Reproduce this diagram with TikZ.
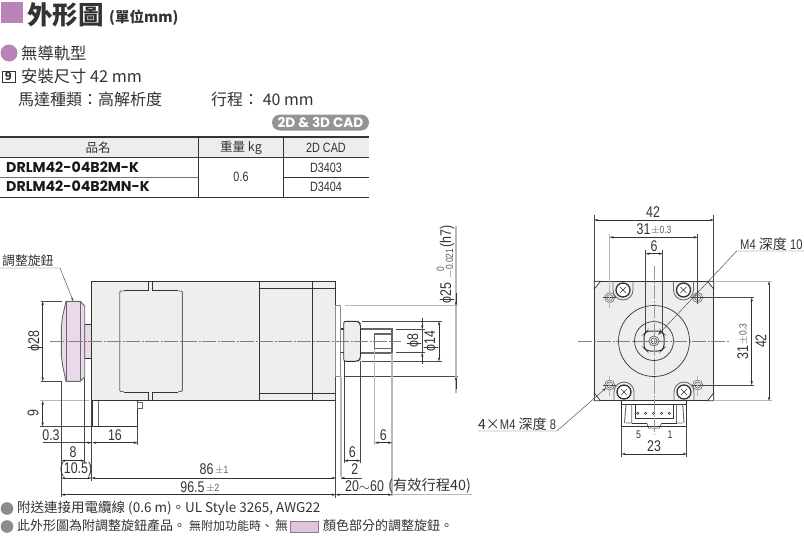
\documentclass[tikz,border=0pt]{standalone}
\usepackage{fontspec}
\usepackage{tikz}
\usepackage{xcolor}
\usetikzlibrary{arrows.meta,calc}
\setmainfont{Noto Sans CJK TC}
\newfontfamily\dimfont[FakeStretch=0.8]{Liberation Sans}
\newfontfamily\partfont[BoldFont={Poppins Bold}]{Poppins}
\definecolor{markpink}{HTML}{B884B8}
\definecolor{bodygray}{HTML}{EEEEEE}
\definecolor{knobpink}{HTML}{EAD9EA}
\definecolor{swatchpink}{HTML}{E0C4E0}
\definecolor{extgray}{HTML}{B8B8B8}
\definecolor{inkdark}{HTML}{333333}
\newcommand{\fs}[1]{\fontsize{#1}{#1}\selectfont}
\newcommand{\phisign}{\char"03D5\relax}
\tikzset{
    every node/.style={inner sep=0pt,text=inkdark},
    outline/.style={draw=inkdark,line width=0.9pt},
    thinline/.style={draw=inkdark,line width=0.5pt},
    extline/.style={draw=inkdark!90,line width=0.45pt},
    extthick/.style={draw=extgray,line width=1.1pt},
    grayedge/.style={draw=black!60,line width=1.1pt},
    centerline/.style={draw=black!50,line width=0.5pt,dash pattern=on 14pt off 1.5pt on 2pt off 1.5pt},
    dimline/.style={draw=inkdark,line width=0.45pt,{Stealth[length=4pt,width=2.4pt]}-{Stealth[length=4pt,width=2.4pt]}},
    dimhead/.style={draw=inkdark,line width=0.45pt,-{Stealth[length=4pt,width=2.4pt]}},
    dimtext/.style={font=\dimfont\fs{15.5}},
    tol/.style={font=\dimfont\fs{10.5},text=black!65},
    headtext/.style={font=\fs{16.3},anchor=west},
    celltext/.style={font=\dimfont\fs{13.5}},
    parttext/.style={font=\partfont\bfseries\fs{14.2},anchor=west,text=black!90},
    notetext/.style={font=\fs{13},anchor=west},
    callout/.style={font=\fs{14},anchor=west},
}
\begin{document}
\begin{tikzpicture}[x=1pt,y=-1pt]
    \useasboundingbox (0,0) rectangle (804,536);

    % Title block
    \fill[markpink] (1,2) rectangle (23,23);
    \node[anchor=west,font=\bfseries\fs{25.5}] (title) at (27,15) {外形圖};
    \node[anchor=west,font=\bfseries\fs{14.5}] (unit) at (109,18) {(單位mm)};
    \fill[markpink] (9,53) circle (8.5);
    \node[headtext] (rail) at (21,53) {無導軌型};
    \draw[thinline,fill=white] (2,71) rectangle (15,82);
    \node[font=\bfseries\fs{11.5}] (sizemark) at (8.5,76.5) {9};
    \node[headtext] (mount) at (21,76) {安裝尺寸 42 mm};
    \node[headtext,font=\fs{16}] (motor) at (18,99) {馬達種類：高解析度};
    \node[headtext,font=\fs{16}] (stroke) at (211,99) {行程： 40 mm};
    \fill[black!42,rounded corners=8pt] (272,114.5) rectangle (369,130.5);
    \node[font=\partfont\bfseries\fs{13.6},text=white] (cad) at (320.5,122.5) {2D \& 3D CAD};

    % Table
    \fill[black!7] (0,137) rectangle (369,157);
    \draw[line width=1.2pt,draw=inkdark] (0,137) -- (369,137);
    \draw[line width=1.2pt,draw=inkdark] (0,197.3) -- (369,197.3);
    \draw[thinline] (0,157) -- (369,157);
    \draw[draw=black!55,line width=0.5pt] (0,177) -- (198.5,177);
    \draw[thinline] (283.5,177) -- (369,177);
    \draw[thinline] (198.5,137) -- (198.5,197) (283.5,137) -- (283.5,197);
    \node[font=\fs{12.5}] (namehead) at (98,148) {品名};
    \node[font=\fs{12.5}] (masshead) at (241,148) {重量 kg};
    \node[celltext] (cadhead) at (326,147.5) {2D CAD};
    \node[parttext] (parta) at (6,167) {DRLM42-04B2M-K};
    \node[parttext] (partb) at (6,186.5) {DRLM42-04B2MN-K};
    \node[celltext] (mass) at (241,177) {0.6};
    \node[celltext] (cada) at (326,167.5) {D3403};
    \node[celltext] (cadb) at (326,187) {D3404};

    % Side view: motor body
    \draw[outline,fill=bodygray] (91.5,281.5) rectangle (335.7,400.8);
    \draw[outline] (259.3,281.5) -- (259.3,400.8) (312.3,281.5) -- (312.3,400.8);
    \draw[thinline] (259.3,288.3) -- (335.7,288.3) (259.3,393.3) -- (335.7,393.3);
    \draw[grayedge,line width=0.9pt,rounded corners=1pt] (123.7,291) -- (119.7,291) -- (119.7,391.5) -- (123.7,391.5);
    \draw[grayedge,line width=0.9pt,rounded corners=1pt] (178.3,291) -- (182.3,291) -- (182.3,391.5) -- (178.3,391.5);
    \draw[outline,line width=0.7pt] (123.7,290.5) -- (148,290.5) -- (148,281.5) (152.5,281.5) -- (152.5,290.5) -- (178.3,290.5);
    \draw[outline,line width=0.7pt] (123.7,392.3) -- (148,392.3) -- (148,400.8) (152.5,400.8) -- (152.5,392.3) -- (178.3,392.3);

    % Side view: adjusting knob
    \draw[outline,fill=knobpink] (84.7,324.3) rectangle (91.5,358.7);
    \draw[grayedge,fill=knobpink,line width=0.9pt] (66,301.3) -- (80.3,301.3) -- (84.7,306) -- (84.7,376.7) -- (80.3,381.3) -- (66,381.3)
        -- (62.5,365) -- (61.3,355) -- (61.3,328) -- (62.5,316.7) -- cycle;
    \draw[grayedge,line width=0.7pt] (66,301.3) -- (66,381.3) (80.3,301.3) -- (80.3,381.3);

    % Side view: connector below the body
    \draw[outline,fill=white] (92.3,400.8) rectangle (137.7,426.3);
    \draw[grayedge,line width=0.8pt] (98.3,400.8) -- (98.3,426.3);
    \draw[grayedge,line width=0.7pt] (137.7,402.7) rectangle (142,408.7);

    % Side view: pilot, boss and shaft
    \draw[grayedge,line width=0.8pt,draw=black!45] (335.7,305.7) rectangle (340.7,376.7);
    \draw[outline,line width=1.2pt] (340.7,329) -- (343.7,329) (340.7,352.7) -- (343.7,352.7);
    \draw[grayedge,line width=1.8pt] (360.5,329.3) -- (392,329.3) -- (392,352.7) -- (360.5,352.7);
    \draw[grayedge,line width=1.1pt] (392,334) -- (374.7,334) -- (374.7,348.3) -- (392,348.3);
    \draw[outline,fill=bodygray,rounded corners=2pt] (343.7,321.3) -- (358,321.3) -- (360.5,324) -- (360.5,358.6) -- (358,361.3) -- (343.7,361.3) -- cycle;
    \draw[centerline] (50,341.3) -- (401,341.3);

    % Side view: vertical dimensions
    \draw[extline] (41,301.3) -- (62,301.3) (41,381.3) -- (62,381.3);
    \draw[dimline] (42.7,301.3) -- (42.7,381.3);
    \node[dimtext,rotate=90] (dknob) at (35,341.3) {\phisign28};
    \draw[extthick,line width=0.9pt] (40,400.8) -- (89,400.8);
    \draw[extline] (40,426.3) -- (92.3,426.3);
    \draw[dimline] (42.7,400.8) -- (42.7,426.3);
    \node[dimtext,rotate=90] (dcon) at (33,413.5) {9};
    \draw[extthick] (345,305.7) -- (458,305.7);
    \draw[extline] (345,376.7) -- (458,376.7);
    \draw[extthick] (456,226) -- (456,393);
    \coordinate (pilottop) at (456,305.7);
    \coordinate (pilotlow) at (456,376.7);
    \draw[dimhead] (456,293) -- (pilottop);
    \draw[dimhead] (456,389) -- (pilotlow);
    \node[dimtext,rotate=90,anchor=west] (dpilot) at (447,303.5) {\phisign25};
    \node[tol,rotate=90] (tolup) at (440.5,269) {0};
    \node[tol,rotate=90] (tollow) at (450,263.5) {$-$0.021};
    \node[dimtext,rotate=90,anchor=west] (fit) at (447,248) {(h7)};
    \draw[extline] (362,321.3) -- (442,321.3) (362,361.3) -- (442,361.3);
    \draw[dimline] (439,321.3) -- (439,361.3);
    \node[dimtext,rotate=90] (dboss) at (431,341) {\phisign14};
    \draw[extline] (396,329.3) -- (425,329.3) (396,352.7) -- (425,352.7);
    \draw[dimhead] (422.3,318) -- (422.3,329.3);
    \draw[dimhead] (422.3,364) -- (422.3,352.7);
    \draw[extline] (422.3,329.3) -- (422.3,352.7);
    \node[dimtext,rotate=90] (dshaft) at (414,341) {\phisign8};

    % Side view: extension lines going down
    \draw[extline] (61.4,381.3) -- (61.4,497);
    \draw[extline] (84.7,378) -- (84.7,463);
    \draw[extline] (91.5,401) -- (91.5,481);
    \draw[extline] (137.7,426.3) -- (137.7,445);
    \draw[extline] (335.7,377) -- (335.7,498);
    \draw[extthick] (341,377) -- (341,477);
    \draw[extline] (344,361.3) -- (344,463);
    \draw[extline] (360.5,361.3) -- (360.5,463);
    \draw[extthick] (374.7,349) -- (374.7,445);
    \draw[extthick] (392,352.7) -- (392,496);

    % Side view: horizontal dimensions
    \draw[extline] (43,442.7) -- (91.5,442.7);
    \draw[dimhead] (80,442.7) -- (91.5,442.7);
    \node[dimtext] (d03) at (51,435.5) {0.3};
    \draw[dimline] (92.3,442.7) -- (137.7,442.7);
    \node[dimtext] (d16) at (115,435.5) {16};
    \draw[dimline] (61.4,460.7) -- (84.7,460.7);
    \node[dimtext] (d8) at (73,452) {8};
    \draw[dimline] (61.4,478) -- (91.5,478);
    \node[dimtext] (d105) at (76,469.5) {(10.5)};
    \draw[dimline] (91.5,478) -- (335.7,478);
    \node[dimtext] (d86) at (206.5,469.5) {86};
    \node[tol,anchor=west] (d86t) at (215,470.5) {$\pm$1};
    \draw[dimline] (61.4,494.7) -- (335.7,494.7);
    \node[dimtext] (d965) at (192.5,487) {96.5};
    \node[tol,anchor=west] (d965t) at (206,488) {$\pm$2};
    \draw[dimline] (344,460.7) -- (360.5,460.7);
    \node[dimtext] (d6a) at (352.3,452) {6};
    \draw[dimline] (374.7,442.7) -- (392,442.7);
    \node[dimtext] (d6b) at (383.3,435.5) {6};
    \draw[extline] (341,478) -- (361.7,478);
    \draw[dimhead] (352,478) -- (341,478);
    \node[dimtext] (d2) at (354.7,469.5) {2};
    \draw[dimline] (335.7,494.7) -- (392,494.7);
    \draw[extthick,line width=0.9pt] (392,494.7) -- (471.7,494.7);
    \node[dimtext,anchor=west] (dstroke) at (345,486.5) {20$\sim$60};
    \node[font=\fs{14.3},anchor=west] (dstrokenote) at (388,486) {(有效行程40)};

    % Adjusting knob callout
    \node[font=\fs{12.8},anchor=west] (knoblabel) at (2,260.7) {調整旋鈕};
    \coordinate (knobtip) at (73.3,301.3);
    \draw[extline,-{Stealth[length=4pt,width=2.4pt]}] (0,268) -- (60,268) -- (knobtip);

    % Front view: motor face
    \draw[outline,fill=bodygray] (594.3,281.3) rectangle (713.7,400.8);
    \draw[outline,fill=white,line width=0.7pt] (594.3,289) -- (600.5,281.3) -- (594.3,281.3) -- cycle;
    \draw[outline,fill=white,line width=0.7pt] (713.7,289) -- (707.5,281.3) -- (713.7,281.3) -- cycle;
    \draw[outline,fill=white,line width=0.7pt] (594.3,393) -- (600.5,400.8) -- (594.3,400.8) -- cycle;
    \draw[outline,fill=white,line width=0.7pt] (713.7,393) -- (707.5,400.8) -- (713.7,400.8) -- cycle;
    \draw[thinline,line width=0.7pt] (654,341) circle (35.5) (654,341) circle (19.5);
    \draw[grayedge,line width=0.7pt] (654,341) circle (5) (654,341) circle (3);
    \draw[outline,line width=1pt,rounded corners=3pt] (644,334) -- (647,331) -- (661,331) -- (664,334) -- (664,348) -- (661,351) -- (647,351) -- (644,348) -- cycle;

    % Front view: mounting holes and screw heads
    \foreach \hx/\hy in {609.7/297.6,697.7/297.6,609.7/385,697.7/385}{
        \draw[grayedge,line width=0.6pt] (\hx,\hy) circle (5) (\hx,\hy) circle (3);
    }
    \draw[extline] (603,297.6) -- (617,297.6) (603,385) -- (617,385);
    \draw[extline] (691,297.6) -- (704,297.6) (691,385) -- (704,385);
    \draw[extthick,line width=0.8pt] (609.7,376) -- (609.7,396);
    \draw[extthick,line width=0.8pt] (697.7,376) -- (697.7,396);
    \foreach \sx/\sy/\sopen in {623/290/-1,683.5/290/-1,624/392/1,684/392/1}{
        \draw[grayedge,line width=0.8pt] (\sx-10,\sy+\sopen*8.8) -- (\sx-10,\sy) arc[start angle=180,end angle={180+\sopen*180},radius=10] -- (\sx+10,\sy+\sopen*8.8);
        \draw[outline,fill=white,line width=1.3pt] (\sx,\sy) circle (7);
        \draw[thinline] (\sx-3,\sy-3) -- (\sx+3,\sy+3) (\sx-3,\sy+3) -- (\sx+3,\sy-3);
    }

    % Front view: connector
    \draw[outline,fill=white] (621.7,400.8) rectangle (686.7,426);
    \draw[thinline] (621.7,404) -- (686.7,404);
    \draw[grayedge,line width=0.9pt] (626,404) -- (624.5,423) (631.7,404) -- (631.7,423) -- (626,423);
    \draw[grayedge,line width=0.9pt] (682.7,404) -- (684,423) (676.5,404) -- (676.5,423) -- (682.5,423);
    \draw[thinline] (635,404) -- (635,418) -- (673.3,418) -- (673.3,404);
    \draw[thinline] (632,423) -- (646.7,423) (661.7,423) -- (676.5,423);
    \draw[thinline] (646.7,423) -- (648.5,428) -- (659.5,428) -- (661.7,423);
    \foreach \px in {637.7,645.5,653.5,661.5,669.3}{
        \draw[thinline,fill=white] (\px,413.3) circle (1.2);
    }
    \node[font=\dimfont\fs{11}] (pinfive) at (638.5,434.5) {5};
    \node[font=\dimfont\fs{11}] (pinone) at (670,434.5) {1};

    % Front view: center lines
    \draw[centerline] (578,341) -- (730,341);
    \draw[centerline,draw=black!40,line width=0.8pt] (654,266) -- (654,435);

    % Front view: dimensions
    \draw[extline] (594.3,215) -- (594.3,281.3) (713.7,215) -- (713.7,281.3);
    \draw[dimline] (594.3,220) -- (713.7,220);
    \node[dimtext] (f42) at (653,212) {42};
    \draw[extthick,line width=0.9pt] (609.7,234) -- (609.7,308);
    \draw[extline] (697.7,234) -- (697.7,304);
    \draw[dimline] (609.7,237.3) -- (697.7,237.3);
    \node[dimtext] (f31) at (643.5,229.5) {31};
    \node[tol,anchor=west] (f31t) at (651,230.5) {$\pm$0.3};
    \draw[extline] (645.7,250) -- (645.7,332) (662.7,250) -- (662.7,332);
    \draw[dimline] (645.7,253.7) -- (662.7,253.7);
    \node[dimtext] (f6) at (654,246) {6};
    \draw[extline] (704,297.6) -- (754,297.6) (704,385) -- (754,385);
    \draw[dimline] (751.7,297.6) -- (751.7,385);
    \node[dimtext,rotate=90] (v31) at (742.7,352.5) {31};
    \node[tol,rotate=90] (v31t) at (743.5,334) {$\pm$0.3};
    \draw[extthick,line width=0.9pt] (715,281.3) -- (771.5,281.3) (715,400.8) -- (771.5,400.8);
    \draw[dimline] (769,281.3) -- (769,400.8);
    \node[dimtext,rotate=90] (v42) at (761,341) {42};
    \draw[extline] (621.7,426) -- (621.7,457) (686.7,426) -- (686.7,457);
    \draw[dimline] (621.7,454) -- (686.7,454);
    \node[dimtext] (f23) at (654,446) {23};

    % Front view: callouts
    \node[callout] (depthten) at (740,244) {{\dimfont M4} 深度 {\dimfont 10}};
    \coordinate (shafthole) at (658,335);
    \draw[extline,-{Stealth[length=4pt,width=2.4pt]}] (804,251) -- (736.7,251) -- (shafthole);
    \node[callout] (deptheight) at (478,424) {4×{\dimfont M4} 深度 {\dimfont 8}};
    \coordinate (holetip) at (606,388);
    \draw[extline,-{Stealth[length=4pt,width=2.4pt]}] (478,431) -- (557,431) -- (holetip);

    % Notes
    \fill[black!45] (7,508.5) circle (6.3) (7,526.5) circle (6.3);
    \node[notetext,font=\fs{13.5}] (notea) at (17,508) {附送連接用電纜線 (0.6 m)。UL Style 3265, AWG22};
    \node[notetext] (noteb) at (17,526) {此外形圖為附調整旋鈕產品。};
    \node[notetext,font=\fs{12}] (notec) at (189,526) {無附加功能時、};
    \node[notetext] (noted) at (275,526) {無};
    \draw[draw=black!50,line width=0.6pt,fill=swatchpink] (290,521) rectangle (318,532);
    \node[notetext] (notee) at (323,526) {顏色部分的調整旋鈕。};
\end{tikzpicture}
\end{document}
